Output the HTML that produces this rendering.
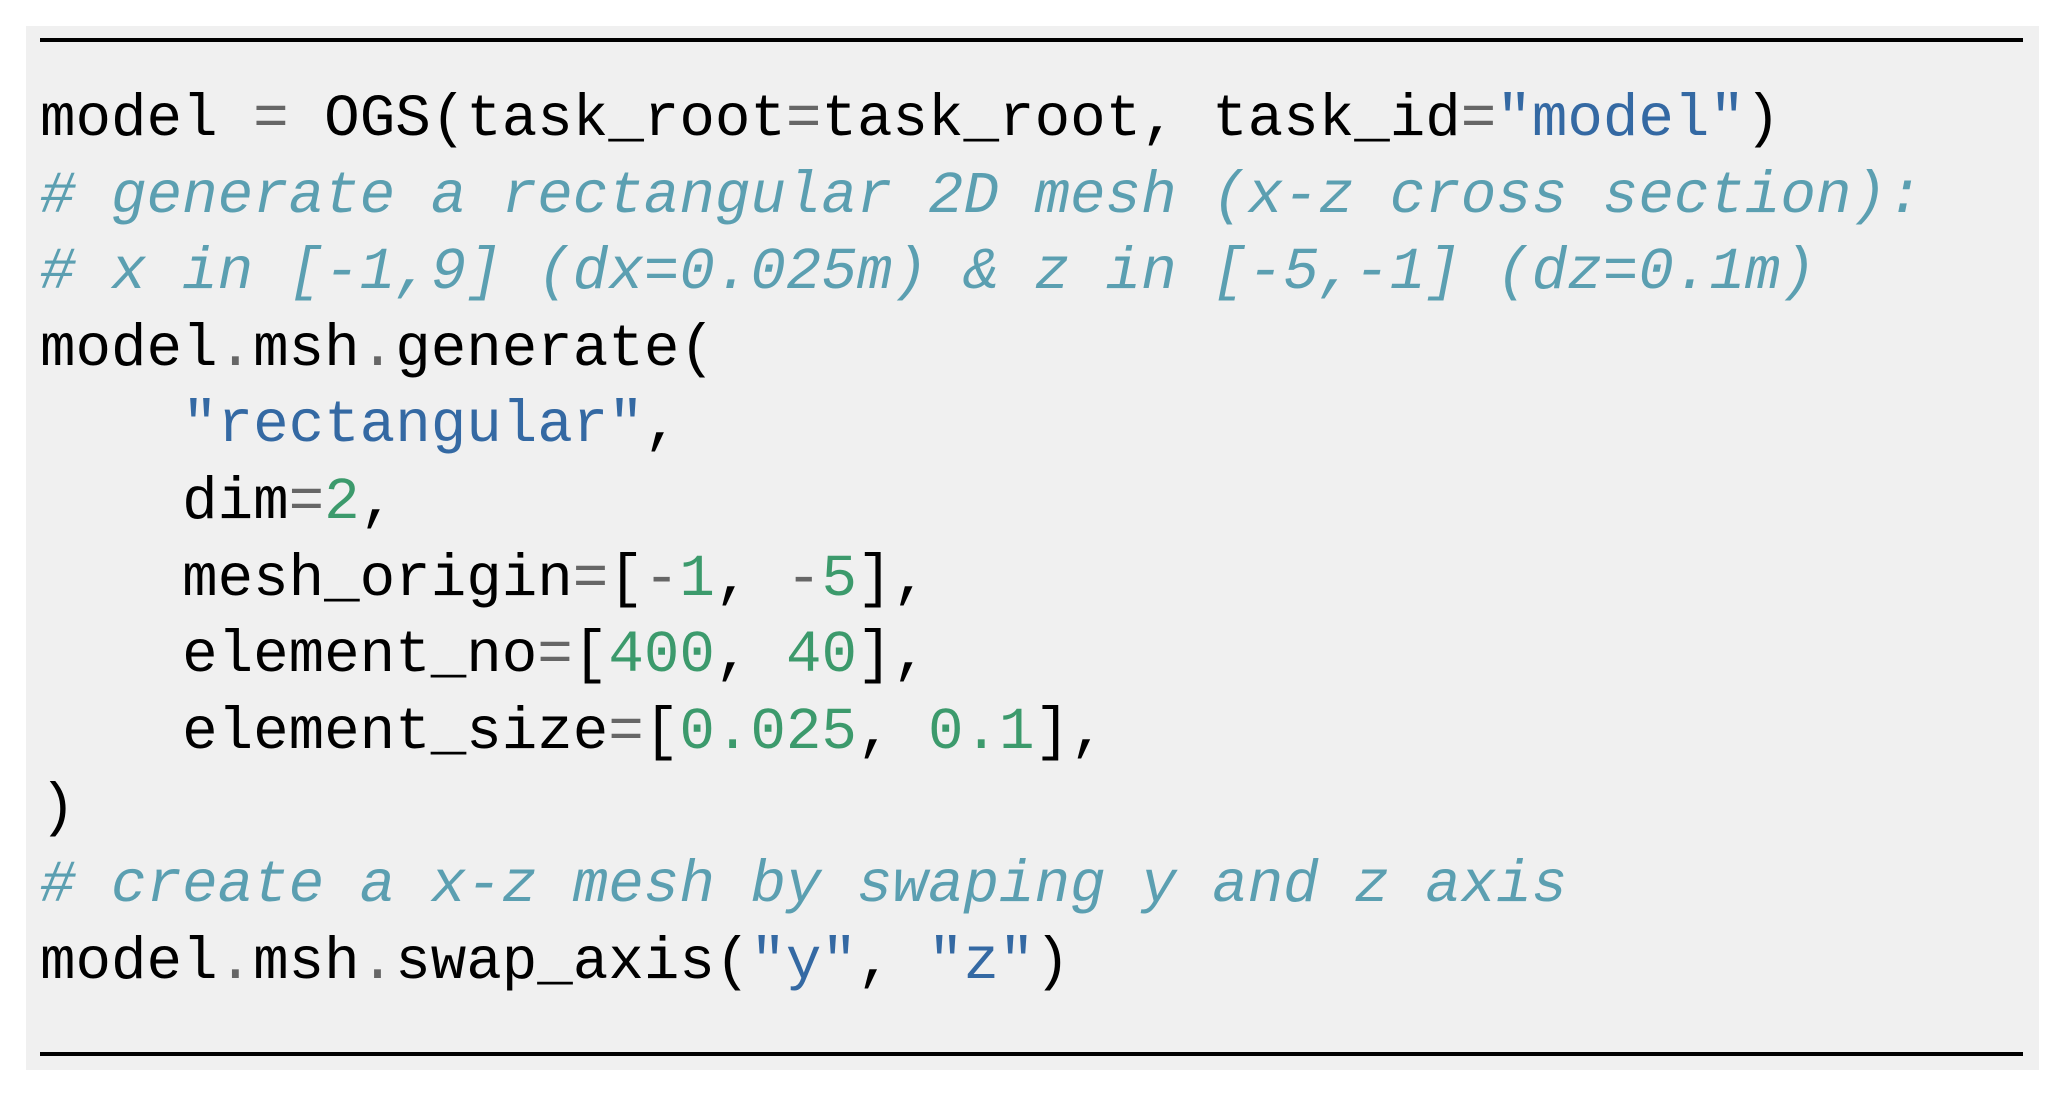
<!DOCTYPE html>
<html><head><meta charset="utf-8"><style>
html,body{margin:0;padding:0;background:#fff;width:2067px;height:1098px;overflow:hidden}
.box{position:absolute;left:26px;top:26px;width:2013px;height:1044px;background:#f0f0f0}
.rule{position:absolute;left:40px;width:1983px;height:4px;background:#000}
pre{position:absolute;left:40px;top:82px;margin:0;font-family:"Liberation Mono",monospace;font-size:59.2px;line-height:76.6px;color:#000}
.c{color:#5b9fb1;font-style:italic}
.s{color:#3469a3}
.n{color:#3c9a6c}
.o{color:#666}
</style></head><body>
<div class="box"></div>
<div class="rule" style="top:38px"></div>
<div class="rule" style="top:1052px"></div>
<pre>model <span class="o">=</span> OGS(task_root<span class="o">=</span>task_root, task_id<span class="o">=</span><span class="s">"model"</span>)
<span class="c"># generate a rectangular 2D mesh (x-z cross section):</span>
<span class="c"># x in [-1,9] (dx=0.025m) &amp; z in [-5,-1] (dz=0.1m)</span>
model<span class="o">.</span>msh<span class="o">.</span>generate(
    <span class="s">"rectangular"</span>,
    dim<span class="o">=</span><span class="n">2</span>,
    mesh_origin<span class="o">=</span>[<span class="o">-</span><span class="n">1</span>, <span class="o">-</span><span class="n">5</span>],
    element_no<span class="o">=</span>[<span class="n">400</span>, <span class="n">40</span>],
    element_size<span class="o">=</span>[<span class="n">0.025</span>, <span class="n">0.1</span>],
)
<span class="c"># create a x-z mesh by swaping y and z axis</span>
model<span class="o">.</span>msh<span class="o">.</span>swap_axis(<span class="s">"y"</span>, <span class="s">"z"</span>)</pre>
</body></html>
